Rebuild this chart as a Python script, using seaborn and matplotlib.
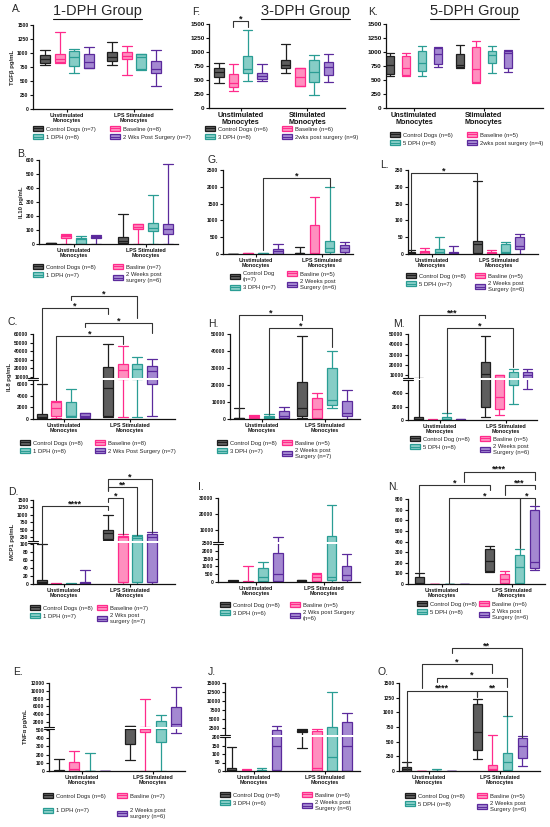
import numpy as np
import pandas as pd
import matplotlib
matplotlib.use('Agg')
import matplotlib.pyplot as plt
import seaborn as sns
from matplotlib.patches import Patch, Rectangle
from matplotlib.lines import Line2D
from matplotlib.transforms import blended_transform_factory as blend

# ---------------- data: each box = [min, Q1, median, Q3, max] ----------------
# order inside every list: Control, Baseline, DPH, 2 weeks post surgery
A_unstim = [[790, 820, 900, 970, 1050], [830, 840, 900, 980, 1370], [650, 760, 920, 1030, 1080], [730, 740, 840, 990, 1100]]
A_lps = [[780, 860, 920, 1020, 1200], [610, 900, 950, 1020, 1120], [690, 720, 930, 980, 990], [410, 640, 720, 850, 1060]]
B_unstim = [[0, 2, 5, 8, 10], [0, 45, 55, 65, 68], [0, 2, 35, 45, 58], [0, 45, 50, 55, 65]]
B_lps = [[0, 5, 25, 50, 215], [0, 105, 120, 140, 145], [0, 90, 115, 150, 350], [0, 75, 105, 140, 570]]
C_unstim = [[0, 200, 400, 800, 6000], [200, 600, 1950, 2900, 3050], [400, 450, 600, 2900, 5100], [100, 300, 600, 1000, 1100]]
C_lps = [[300, 600, 5400, 22100, 48300], [340, 9000, 18600, 24800, 46300], [340, 9000, 19400, 25600, 32700], [570, 6100, 17000, 23300, 31500]]
D_unstim = [[0, 2, 5, 10, 100], [0, 0, 0.5, 1, 2], [0, 0, 0.5, 1, 2], [0, 1, 3, 6, 35]]
D_lps = [[150, 200, 370, 480, 1000], [0, 5, 240, 290, 350], [0, 5, 230, 285, 320], [0, 5, 260, 350, 410]]
E_unstim = [[0, 2, 5, 15, 145], [0, 5, 20, 110, 240], [0, 0, 1, 3, 215], [0, 1, 2, 4, 6]]
E_lps = [[130, 330, 600, 1100, 1150], [0, 480, 700, 1000, 8000], [0, 350, 600, 2200, 3800], [460, 1000, 1500, 5900, 10900]]
F_unstim = [[445, 545, 640, 710, 800], [310, 375, 440, 610, 790], [490, 620, 690, 920, 1400], [475, 515, 565, 620, 785]]
F_lps = [[620, 710, 770, 860, 1150], [390, 395, 550, 710, 720], [230, 460, 640, 860, 940], [470, 590, 735, 825, 965]]
G_unstim = [[0, 1, 3, 5, 8], [0, 5, 10, 20, 30], [0, 5, 10, 20, 30], [0, 10, 80, 140, 290]]
G_lps = [[0, 5, 15, 30, 220], [0, 0, 20, 860, 1710], [0, 50, 170, 400, 1985], [0, 50, 170, 270, 370]]
H_unstim = [[0, 100, 300, 600, 6200], [500, 1000, 1500, 2000, 2200], [0, 300, 1200, 2000, 2700], [0, 500, 2000, 4500, 7000]]
H_lps = [[300, 1500, 6500, 22000, 48600], [0, 600, 6000, 12300, 15300], [6500, 8400, 11400, 30000, 39800], [0, 1600, 3500, 10400, 17300]]
I_unstim = [[0, 10, 30, 60, 100], [0, 10, 30, 60, 1000], [0, 50, 300, 900, 1300], [0, 50, 500, 1850, 5500]]
I_lps = [[0, 20, 60, 120, 150], [0, 50, 300, 500, 600], [0, 100, 340, 6500, 25600], [0, 100, 450, 1050, 1800]]
J_unstim = [[0, 2, 8, 15, 143], [0, 2, 5, 8, 10], [0, 1, 4, 7, 20], [0, 5, 150, 2000, 3000]]
J_lps = [[135, 1500, 1700, 2000, 2100], [0, 1, 20, 1600, 2200], [0, 1, 82, 2900, 12500], [0, 1, 150, 4300, 6700]]
K_unstim = [[575, 610, 760, 930, 980], [580, 585, 710, 930, 980], [565, 665, 800, 1010, 1100], [740, 780, 960, 1080, 1090]]
K_lps = [[720, 740, 760, 960, 1120], [455, 470, 700, 1095, 1200], [630, 800, 940, 1010, 1100], [650, 720, 980, 1025, 1040]]
L_unstim = [[0, 1, 3, 5, 12], [0, 1, 5, 9, 17], [0, 1, 5, 14, 50], [0, 1, 3, 5, 24]]
L_lps = [[0, 2, 30, 39, 217], [0, 1, 3, 5, 11], [0, 2, 5, 30, 37], [0, 14, 25, 50, 61]]
M_unstim = [[0, 50, 200, 400, 7500], [0, 10, 30, 50, 80], [0, 50, 200, 500, 1050], [0, 20, 50, 100, 150]]
M_lps = [[400, 2000, 11000, 22400, 48000], [700, 1600, 3400, 9800, 10100], [2400, 5200, 8000, 13200, 15900], [4700, 7500, 10000, 13200, 15900]]
N_unstim = [[0, 2, 10, 70, 100], [0, 0.5, 1, 2, 3], [0, 0.5, 1, 2, 3], [0, 0.5, 1, 2, 3]]
N_lps = [[110, 125, 215, 325, 355], [0, 10, 50, 90, 125], [0, 5, 160, 273, 325], [130, 155, 205, 700, 730]]
O_unstim = [[0, 5, 30, 70, 150], [0, 1, 2, 3, 5], [0, 1, 3, 8, 40], [0, 1, 2, 3, 5]]
O_lps = [[200, 350, 660, 1150, 1220], [0, 10, 40, 110, 620], [0, 20, 150, 300, 935], [85, 220, 420, 560, 600]]

# legend labels (Control, Baseline, DPH, 2 weeks)
A_labels = ['Control Dogs (n=7)', 'Baseline (n=8)', '1 DPH (n=8)', '2 Wks Post Surgery (n=7)']
B_labels = ['Control Dogs (n=8)', 'Basline (n=7)', '1 DPH (n=7)', '2 Weeks post\nsurgery (n=6)']
C_labels = ['Control Dogs (n=8)', 'Baseline (n=8)', '1 DPH (n=8)', '2 Wks Post Surgery (n=7)']
D_labels = ['Control Dogs (n=8)', 'Baseline (n=7)', '1 DPH (n=7)', '2 Wks post\nsurgery (n=7)']
E_labels = ['Control Dogs (n=6)', 'Basline (n=7)', '1 DPH (n=7)', '2 Weeks post\nsurgery (n=6)']
F_labels = ['Control Dogs (n=6)', 'Baseline (n=6)', '3 DPH (n=8)', '2wks post surgery (n=9)']
G_labels = ['Control Dog\n(n=7)', 'Basline (n=5)', '3 DPH (n=7)', '2 Weeks post\nSurgery (n=6)']
H_labels = ['Control Dog (n=8)', 'Basline (n=5)', '3 DPH (n=7)', '2 Weeks post\nSurgery (n=7)']
I_labels = ['Control Dog (n=8)', 'Basline (n=5)', '3 DPH (n=6)', '2 Wks post Surgery\n(n=6)']
J_labels = ['Control Dog (n=8)', 'Basline (n=6)', '3 DPH (n=6)', '2 Weeks post\nSurgery (n=6)']
K_labels = ['Control Dogs (n=6)', 'Baseline (n=5)', '5 DPH (n=8)', '2wks post surgery (n=4)']
L_labels = ['Control Dog (n=8)', 'Basline (n=5)', '5 DPH (n=7)', '2 Weeks post\nSurgery (n=6)']
M_labels = ['Control Dog (n=8)', 'Basline (n=5)', '5 DPH (n=8)', '2 Weeks post\nSurgery (n=6)']
N_labels = ['Control Dog (n=8)', 'Basline (n=6)', '5 DPH (n=8)', '2 Wks post\nSurgery (n=6)']
O_labels = ['Control Dog (n=8)', 'Basline (n=5)', '5 DPH (n=8)', '2 Weeks post\nSurgery (n=6)']

# y tick values
T1500 = [0, 250, 500, 750, 1000, 1250, 1500]
B_ticks = [0, 100, 200, 300, 400, 500, 600]
C_ticks = [0, 2000, 4000, 6000, 10000, 20000, 30000, 40000, 50000, 60000]
D_ticks = [0, 20, 40, 60, 80, 100, 250, 500, 750, 1000, 1250, 1500]
E_ticks = [0, 100, 200, 300, 400, 500, 2000, 4000, 6000, 8000, 10000, 12000]
G_ticks = [0, 500, 1000, 1500, 2000, 2500]
H_ticks = [0, 10000, 20000, 30000, 40000, 50000]
I_ticks = [0, 500, 1000, 1500, 2000, 2500, 10000, 20000, 30000]
J_ticks = [0, 50, 100, 150, 200, 2500, 5000, 7500, 10000, 12500, 15000]
L_ticks = [0, 50, 100, 150, 200, 250]
M_ticks = [0, 2000, 4000, 10000, 20000, 30000, 40000, 50000]
N_ticks = [0, 100, 200, 300, 400, 500, 600, 700, 800]

GROUP_NAMES = ['Unstimulated\nMonocytes', 'LPS Stimulated\nMonocytes']
GROUP_NAMES_FK = ['Unstimulated\nMonocytes', 'Stimulated\nMonocytes']

# ---------------- style ----------------
sns.set_theme(style='ticks')
plt.rcParams['font.family'] = ['Liberation Sans', 'DejaVu Sans']
plt.rcParams['axes.linewidth'] = 0.9

W, H = 550, 827
fig = plt.figure(figsize=(W / 100, H / 100), dpi=100)

HUES = ['ctrl', 'base', 'dph', 'wks']
EDGE = {'ctrl': '#1e1e1e', 'base': '#ff2b8c', 'dph': '#2a9d94', 'wks': '#5b2a9c'}
FACE = {'ctrl': '#5e5e5e', 'base': '#ff8fbf', 'dph': '#86cdc6', 'wks': '#a488d1'}
LW = 0.9


def piecewise(dpts, ppts):
    d = np.asarray(dpts, float)
    p = np.asarray(ppts, float)
    s0 = (p[1] - p[0]) / (d[1] - d[0])
    s1 = (p[-1] - p[-2]) / (d[-1] - d[-2])

    def fwd(y):
        y = np.asarray(y, float)
        out = np.interp(y, d, p)
        out = np.where(y < d[0], p[0] + (y - d[0]) * s0, out)
        return np.where(y > d[-1], p[-1] + (y - d[-1]) * s1, out)

    def inv(v):
        v = np.asarray(v, float)
        out = np.interp(v, p, d)
        out = np.where(v < p[0], d[0] + (v - p[0]) / s0, out)
        return np.where(v > p[-1], d[-1] + (v - p[-1]) / s1, out)
    return fwd, inv


# layout (pixel geometry: axis left, right, unstim centre, lps centre, top, bottom)
LAYOUT = {
    'A': dict(U=A_unstim, L=A_lps, lab=A_labels, geo=(33, 172, 67, 134, 25, 109), sp=14.5, bw=10, ymax=1500, ticks=T1500,
              ylabel='TGFβ pg/mL', letter=(12, 12), leg=(33, 110, 130, 0.5)),
    'B': dict(U=B_unstim, L=B_lps, lab=B_labels, geo=(39, 178, 73.5, 145.5, 160, 244), sp=15, bw=10, ymax=600, ticks=B_ticks,
              ylabel='IL10 pg/mL', letter=(17, 157), leg=(33, 113, 268, 0.5)),
    'C': dict(U=C_unstim, L=C_lps, lab=C_labels, geo=(33, 175, 63.5, 130, 334, 419), sp=14.5, bw=10, ymax=60000, ticks=C_ticks,
              ylabel='IL8 pg/mL', letter=(7, 325), leg=(20, 95, 444, 0.5),
              seg=([0, 6000, 10000, 60000], [0, 35, 42, 85]), band=40.5),
    'D': dict(U=D_unstim, L=D_lps, lab=D_labels, geo=(33, 175, 63.5, 130, 500, 584), sp=14.5, bw=10, ymax=1500, ticks=D_ticks,
              ylabel='MCP1 pg/mL', letter=(8, 495), leg=(30, 97, 609, 0.5),
              seg=([0, 100, 150, 1500], [0, 40, 44, 84]), band=42),
    'E': dict(U=E_unstim, L=E_lps, lab=E_labels, geo=(49, 185, 82, 153, 683, 771), sp=15.5, bw=10, ymax=12000, ticks=E_ticks,
              ylabel='TNFα pg/mL', letter=(13, 675), leg=(43, 117, 797, 1.6),
              seg=([0, 500, 1500, 12000], [0, 41, 47, 88]), band=42.8),
    'F': dict(U=F_unstim, L=F_lps, lab=F_labels, geo=(209, 345, 240.5, 307, 24, 108), sp=14.3, bw=9.5, ymax=1500, ticks=T1500,
              letter=(192, 15), leg=(205, 282, 130, 0.5), big=True),
    'G': dict(U=G_unstim, L=G_lps, lab=G_labels, geo=(223, 353, 255.5, 322, 170, 254), sp=15, bw=9.5, ymax=2500, ticks=G_ticks,
              letter=(207, 163), leg=(230, 287, 275, 0.5)),
    'H': dict(U=H_unstim, L=H_lps, lab=H_labels, geo=(230, 360, 261.5, 324.5, 334, 419), sp=15, bw=9.5, ymax=50000, ticks=H_ticks,
              letter=(208, 327), leg=(217, 282, 444, 0.5)),
    'I': dict(U=I_unstim, L=I_lps, lab=I_labels, geo=(218, 360, 255.5, 324, 498, 582), sp=15, bw=9.5, ymax=30000, ticks=I_ticks,
              letter=(198, 490), leg=(220, 290, 606, 0.5),
              seg=([0, 2500, 5000, 30000], [0, 39, 44, 84]), band=38.8),
    'J': dict(U=J_unstim, L=J_lps, lab=J_labels, geo=(225, 360, 254, 324.5, 683, 771), sp=15, bw=9.5, ymax=15000, ticks=J_ticks,
              letter=(208, 675), leg=(220, 302, 796, 0.5),
              seg=([0, 200, 1500, 15000], [0, 34, 39.4, 88]), band=35.2),
    'K': dict(U=K_unstim, L=K_lps, lab=K_labels, geo=(386, 543, 414, 483.5, 24, 108), sp=16, bw=8, ymax=1500, ticks=T1500,
              letter=(368, 15), leg=(390, 467, 136, 0.5), big=True),
    'L': dict(U=L_unstim, L=L_lps, lab=L_labels, geo=(408, 538, 432, 498.5, 170, 254), sp=14.3, bw=9, ymax=250, ticks=L_ticks,
              letter=(380, 168), leg=(406, 475, 277, 0.5)),
    'M': dict(U=M_unstim, L=M_lps, lab=M_labels, geo=(408, 537, 439.5, 506, 334, 420), sp=14, bw=9, ymax=50000, ticks=M_ticks,
              letter=(393, 327), leg=(410, 480, 440, 0.5),
              seg=([0, 6000, 10000, 50000], [0, 40, 45, 86]), band=41),
    'N': dict(U=N_unstim, L=N_lps, lab=N_labels, geo=(408, 545, 441.5, 512, 499, 584), sp=15, bw=9, ymax=800, ticks=N_ticks,
              letter=(388, 490), leg=(417, 479, 605, 0.5)),
    'O': dict(U=O_unstim, L=O_lps, lab=O_labels, geo=(399, 540, 429, 499.5, 683, 771), sp=15, bw=9, ymax=1500, ticks=T1500,
              letter=(378, 675), leg=(405, 477, 797, 0.5)),
}

# significance brackets: (panel, (group, hue), (group, hue), y_top_px, drop_left_px, drop_right_px, label)
BRACKETS = [
    ('C', (0, 2), (1, 2), 296, 300, 318, '*'), ('C', (0, 0), (1, 0), 308, 383, 314, '*'),
    ('C', (0, 3), (1, 3), 323, 327, 333, '*'), ('C', (0, 1), (1, 1), 336, 400, 344, '*'),
    ('D', (1, 0), (1, 3), 479, 490, 532, '*'), ('D', (1, 0), (1, 2), 487, 491, 535, '**'),
    ('D', (1, 0), (1, 1), 498, 502, 534, '*'), ('D', (0, 0), (1, 0), 506, 544, 510, '****'),
    ('F', (0, 1), (0, 2), 21, 27, 27, '*'),
    ('G', (0, 2), (1, 2), 178, 250, 187, '*'),
    ('H', (0, 0), (1, 0), 315, 412, 320, '*'), ('H', (0, 2), (1, 2), 328, 414, 347, '*'),
    ('L', (0, 0), (1, 0), 173, 250, 180, '*'),
    ('M', (0, 0), (1, 0), 315, 378, 318, '***'), ('M', (0, 2), (1, 2), 328, 413, 367, '*'),
    ('N', (0, 3), (1, 3), 471.7, 481.7, 480, '****'), ('N', (0, 0), (1, 0), 485, 571.7, 490, '*'),
    ('N', (1, 1), (1, 3), 485, 495, 489, '***'), ('N', (0, 2), (1, 2), 498.3, 584, 548, '*'),
    ('N', (1, 2), (1, 3), 498.3, 546.7, 505, '*'),
    ('O', (0, 3), (1, 3), 648.3, 653.3, 736.7, '**'), ('O', (0, 1), (1, 1), 664, 688.3, 673.3, '*'),
    ('O', (0, 2), (1, 2), 677.7, 681.7, 686.7, '*'), ('O', (0, 0), (1, 0), 690.7, 770, 696.7, '****'),
    ('O', (1, 0), (1, 2), 690.7, 696, 716, '**'),
]

AXES = {}
for key, s in LAYOUT.items():
    left, right, uc, lc, top, bottom = s['geo']
    ax = fig.add_axes([left / W, 1 - bottom / H, (right - left) / W, (bottom - top) / H])
    unit = lc - uc
    rows = []
    for g, arr in (('U', s['U']), ('L', s['L'])):
        for h, vals in zip(HUES, arr):
            for v in vals:
                rows.append((g, h, v))
    df = pd.DataFrame(rows, columns=['grp', 'hue', 'val'])
    w = 4 * s['sp'] / unit
    gap = 1 - s['bw'] / s['sp']
    sns.boxplot(data=df, x='grp', y='val', hue='hue', order=['U', 'L'], hue_order=HUES,
                palette=FACE, saturation=1, whis=(0, 100), width=w, gap=gap,
                linewidth=LW, fliersize=0, legend=False, ax=ax)
    half = s['bw'] / unit / 2
    for h, cont in zip(HUES, ax.containers):
        ec = EDGE[h]
        for b in cont.boxes:
            b.set_edgecolor(ec)
            b.set_facecolor(FACE[h])
            b.set_linewidth(LW)
        for ln in list(cont.whiskers) + list(cont.medians):
            ln.set_color(ec)
            ln.set_linewidth(LW)
        for ln in cont.caps:
            ln.set_color(ec)
            ln.set_linewidth(LW)
            xd = ln.get_xdata()
            c = (xd[0] + xd[1]) / 2
            ln.set_xdata([c - half, c + half])

    big = s.get('big', False)
    if 'seg' in s:
        fwd, inv = piecewise(*s['seg'])
        ax.set_yscale('function', functions=(fwd, inv))
    ax.set_ylim(0, s['ymax'])
    ax.set_xlim((left - uc) / unit, (right - uc) / unit)
    ax.set_yticks(s['ticks'])
    ax.set_yticklabels([str(int(t)) for t in s['ticks']], fontsize=4.6 if big else 3.6, fontweight='bold')
    ax.set_xticks([0, 1])
    ax.set_xticklabels(GROUP_NAMES_FK if big else GROUP_NAMES, fontsize=5.2 if big else 3.9,
                       fontweight='bold', linespacing=1.0)
    ax.tick_params(axis='both', width=0.8, length=2.2, pad=1, colors='#111111')
    ax.set_xlabel('')
    ax.set_ylabel(s.get('ylabel', ''), fontsize=4.3, fontweight='bold', labelpad=1.5)
    sns.despine(ax=ax)
    for sp_ in ('left', 'bottom'):
        ax.spines[sp_].set_linewidth(0.9)
        ax.spines[sp_].set_color('#111111')

    if 'seg' in s:
        fwd, inv = piecewise(*s['seg'])
        lo, hi = float(inv(s['band'] - 1.0)), float(inv(s['band'] + 1.0))
        tr = blend(ax.transAxes, ax.transData)
        ax.add_patch(Rectangle((-0.03, lo), 1.03, hi - lo, transform=tr, facecolor='white',
                               edgecolor='none', zorder=5, clip_on=False))
        for yy in (lo, hi):
            ax.plot([-0.035, 0.035], [yy, yy], transform=tr, color='#111111', lw=0.8,
                    clip_on=False, zorder=6)

    # legend in two columns
    c1x, c2x, ry, lsp = s['leg']
    lab = s['lab']
    hd = {h: (Patch(facecolor=FACE[h], edgecolor=EDGE[h], linewidth=0.9),
              Line2D([], [], color=EDGE[h], lw=0.7)) for h in HUES}
    for cx, hs, ls in ((c1x, ['ctrl', 'dph'], [lab[0], lab[2]]), (c2x, ['base', 'wks'], [lab[1], lab[3]])):
        fig.legend(handles=[hd[h] for h in hs], labels=ls, loc='upper left',
                   bbox_to_anchor=(cx / W, 1 - (ry - 4) / H), bbox_transform=fig.transFigure,
                   frameon=False, fontsize=4.2, handlelength=1.7, handleheight=0.95,
                   handletextpad=0.5, labelspacing=lsp, borderpad=0, borderaxespad=0)

    lx, ly = s['letter']
    fig.text(lx / W, 1 - ly / H, key + '.', fontsize=7.5, va='baseline', ha='left')
    AXES[key] = (ax, s)

# brackets
for key, a, b, ytop, y1, y2, label in BRACKETS:
    ax, s = AXES[key]
    left, right, uc, lc, top, bottom = s['geo']
    unit = lc - uc
    xa = a[0] + (a[1] - 1.5) * s['sp'] / unit
    xb = b[0] + (b[1] - 1.5) * s['sp'] / unit
    tr = blend(ax.transData, fig.transFigure)
    f = lambda y: 1 - y / H
    ax.plot([xa, xa, xb, xb], [f(y1), f(ytop), f(ytop), f(y2)], color='#333333', lw=0.8,
            transform=tr, clip_on=False, zorder=7)
    ax.text((xa + xb) / 2, f(ytop + 0.3), label, transform=tr, ha='center', va='baseline',
            fontsize=6.5, fontweight='bold', color='#111111', clip_on=False)

# titles with underline
titles = []
for cx, txt in ((97.5, '1-DPH Group'), (305.5, '3-DPH Group'), (474.5, '5-DPH Group')):
    titles.append(fig.text(cx / W, 1 - 15 / H, txt, fontsize=10.5, ha='center', va='baseline'))
fig.canvas.draw()
rend = fig.canvas.get_renderer()
for t in titles:
    bb = t.get_window_extent(rend)
    y = (bb.y0 - 0.5) / fig.bbox.height
    fig.add_artist(Line2D([bb.x0 / fig.bbox.width, bb.x1 / fig.bbox.width], [y, y],
                          transform=fig.transFigure, color='#111111', lw=0.8))

fig.savefig('out.png', dpi=100)
